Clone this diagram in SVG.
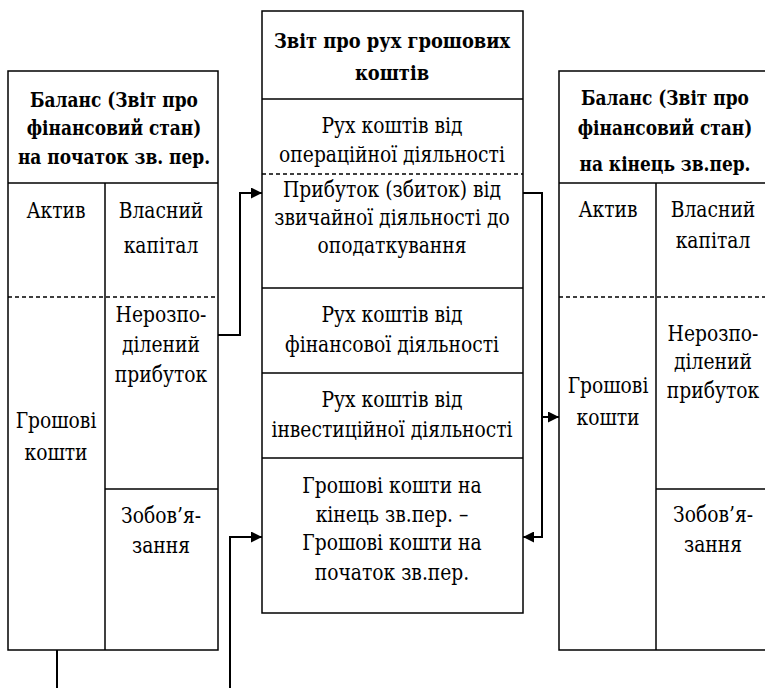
<svg xmlns="http://www.w3.org/2000/svg" width="765" height="688" viewBox="0 0 765 688">
<style>
.box{fill:none;stroke:#000;stroke-width:1.5}
.ln{fill:none;stroke:#000;stroke-width:1.5}
.dash{fill:none;stroke:#000;stroke-width:1.3;stroke-dasharray:4 3}
.con{fill:none;stroke:#000;stroke-width:2}
text{font-family:"DejaVu Serif",serif;font-size:22px;fill:#000;text-anchor:middle}
.h{font-weight:bold;font-size:21px}
</style>
<defs>
<marker id="arr" viewBox="0 0 10 10" refX="10" refY="5" markerWidth="5.5" markerHeight="5.5" orient="auto" markerUnits="strokeWidth">
<path d="M0,0 L10,5 L0,10 z" fill="#000"/>
</marker>
<clipPath id="rclip"><rect x="555" y="60" width="215" height="116"/></clipPath>
</defs>
<rect width="765" height="688" fill="#fff"/>

<g id="left-balance">
<rect class="box" x="8" y="71" width="210" height="579"/>
<line class="ln" x1="8" y1="183" x2="218" y2="183"/>
<line class="ln" x1="105" y1="183" x2="105" y2="650"/>
<line class="dash" x1="8" y1="297" x2="218" y2="297"/>
<line class="ln" x1="105" y1="489" x2="218" y2="489"/>
<g transform="translate(114,0) scale(0.81,1)">
<text class="h" x="0" y="107">Баланс (Звіт про</text>
<text class="h" x="0" y="135">фінансовий стан)</text>
<text class="h" x="0" y="164">на початок зв. пер.</text>
</g>
<g transform="translate(56,0) scale(0.85,1)">
<text x="0" y="218">Актив</text>
<text x="0" y="428">Грошові</text>
<text x="0" y="460">кошти</text>
</g>
<g transform="translate(161,0) scale(0.85,1)">
<text x="0" y="218">Власний</text>
<text x="0" y="253">капітал</text>
<text x="0" y="322">Нерозпо-</text>
<text x="0" y="352">ділений</text>
<text x="0" y="382">прибуток</text>
<text x="0" y="523">Зобов’я-</text>
<text x="0" y="553">зання</text>
</g>
</g>

<g id="cash-flow">
<rect class="box" x="262" y="11" width="261" height="602"/>
<line class="ln" x1="262" y1="99" x2="523" y2="99"/>
<line class="dash" x1="262" y1="174" x2="523" y2="174"/>
<line class="ln" x1="262" y1="288" x2="523" y2="288"/>
<line class="ln" x1="262" y1="373" x2="523" y2="373"/>
<line class="ln" x1="262" y1="458" x2="523" y2="458"/>
<g transform="translate(392,0) scale(0.85,1)">
<text class="h" x="0" y="48">Звіт про рух грошових</text>
<text class="h" x="0" y="80">коштів</text>
<text x="0" y="133">Рух коштів від</text>
<text x="0" y="162">операційної діяльності</text>
<text x="0" y="197">Прибуток (збиток) від</text>
<text x="0" y="225">звичайної діяльності до</text>
<text x="0" y="253">оподаткування</text>
<text x="0" y="322">Рух коштів від</text>
<text x="0" y="352">фінансової діяльності</text>
<text x="0" y="407">Рух коштів від</text>
<text x="0" y="437">інвестиційної діяльності</text>
<text x="0" y="493">Грошові кошти на</text>
<text x="0" y="522">кінець зв.пер. –</text>
<text x="0" y="550">Грошові кошти на</text>
<text x="0" y="580">початок зв.пер.</text>
</g>
</g>

<g id="right-balance">
<polyline class="ln" points="769,71 559,71 559,650 769,650"/>
<line class="ln" x1="559" y1="183" x2="769" y2="183"/>
<line class="ln" x1="656" y1="183" x2="656" y2="650"/>
<line class="dash" x1="559" y1="297" x2="769" y2="297"/>
<line class="ln" x1="656" y1="489" x2="769" y2="489"/>
<g clip-path="url(#rclip)">
<g transform="translate(665,0) scale(0.81,1)">
<text class="h" x="0" y="105">Баланс (Звіт про</text>
<text class="h" x="0" y="135">фінансовий стан)</text>
<text class="h" x="0" y="171">на кінець зв.пер.</text>
</g>
</g>
<g transform="translate(608,0) scale(0.85,1)">
<text x="0" y="217">Актив</text>
<text x="0" y="393">Грошові</text>
<text x="0" y="425">кошти</text>
</g>
<g transform="translate(713,0) scale(0.85,1)">
<text x="0" y="217">Власний</text>
<text x="0" y="248">капітал</text>
<text x="0" y="341">Нерозпо-</text>
<text x="0" y="369">ділений</text>
<text x="0" y="398">прибуток</text>
<text x="0" y="522">Зобов’я-</text>
<text x="0" y="552">зання</text>
</g>
</g>

<g id="connectors">
<polyline class="con" points="218,335 240,335 240,193 262,193" marker-end="url(#arr)"/>
<polyline class="con" points="523,193 542,193 542,537 523,537" marker-end="url(#arr)"/>
<polyline class="con" points="542,417 559,417" marker-end="url(#arr)"/>
<polyline class="con" points="230,688 230,537 262,537" marker-end="url(#arr)"/>
<line class="con" x1="57" y1="650" x2="57" y2="688"/>
</g>
</svg>
